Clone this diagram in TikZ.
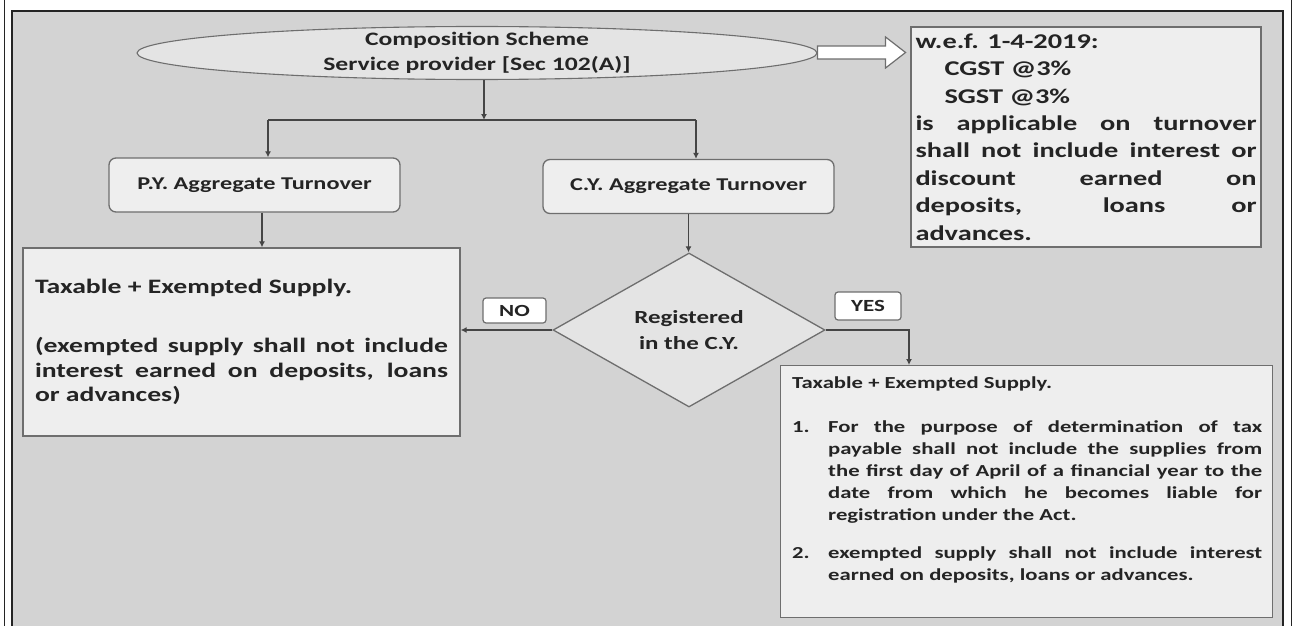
\documentclass[tikz,border=0pt]{standalone}
\usepackage{fontspec}
\setmainfont{Carlito}[FakeStretch=1.35]
\usepackage{tikz}
\usetikzlibrary{shapes.geometric, arrows.meta, positioning}

\definecolor{panelgray}{RGB}{211,211,211}
\definecolor{boxgray}{RGB}{238,238,238}
\definecolor{shapegray}{RGB}{228,228,228}
\definecolor{edgegray}{RGB}{110,110,110}
\definecolor{inkgray}{RGB}{36,36,36}

\tikzset{
  flow/.style={draw=edgegray, line width=1.3pt, fill=boxgray, text=inkgray},
  roundbox/.style={flow, rounded corners=7pt, minimum width=291pt, minimum height=54pt, inner sep=0pt, font=\fontsize{18}{22}\selectfont\bfseries},
  notebox/.style={flow, rectangle, align=justify, inner ysep=0pt},
  tag/.style={draw=edgegray, line width=1.2pt, fill=white, rounded corners=3pt, text=inkgray, inner sep=0pt, font=\fontsize{17}{20}\selectfont\bfseries},
  link/.style={draw=inkgray!85, line width=1.6pt},
  arr/.style={link, -{Latex[length=6pt, width=6pt]}},
}
\newcommand{\listitem}[2]{\noindent\makebox[36pt][l]{#1}\parbox[t]{434pt}{#2}\par}

\begin{document}
\begin{tikzpicture}[x=1pt, y=-1pt]
  \useasboundingbox (0,0) rectangle (1293,626);
  % Frame
  \fill[panelgray] (12,11) rectangle (1283,632);
  \draw[inkgray, line width=1.2pt] (12,632) -- (12,11) -- (1283,11) -- (1283,632);
  \draw[inkgray, line width=1pt] (4,0) -- (4,626);
  \draw[inkgray, line width=1pt] (1291,0) -- (1291,626);
  % Scheme
  \node[flow, ellipse, fill=shapegray, line width=1.1pt, minimum width=680pt, minimum height=53pt, inner sep=0pt] (scheme) at (477,53) {};
  \node[align=center, text=inkgray, font=\fontsize{19}{25}\selectfont\bfseries] (schemetext) at (scheme.center) {Composition Scheme\\Service provider [Sec 102(A)]};
  % Rate box
  \node[notebox, minimum width=350pt, minimum height=220pt, text width=341pt, inner xsep=4.5pt, font=\fontsize{21}{27.4}\selectfont\bfseries] (wefbox) at (1086,137)
    {w.e.f. 1-4-2019:\\
     \hspace*{29pt}CGST @3\%\\
     \hspace*{29pt}SGST @3\%\par
     is applicable on turnover\linebreak shall not include interest or\linebreak discount earned on\linebreak deposits, loans or\linebreak advances.};
  \draw[draw=edgegray, line width=1.2pt, fill=white] (scheme.east) ++(0,-7) -- ++(68,0) -- ++(0,-9) -- ++(20,15.5) -- ++(-20,15.5) -- ++(0,-9) -- ++(-68,0) -- cycle;
  % Turnover boxes
  \node[roundbox] (pyturn) at (254.5,185) {P.Y. Aggregate Turnover};
  \node[roundbox] (cyturn) at (688.5,186.5) {C.Y. Aggregate Turnover};
  % P.Y. result
  \node[notebox, minimum width=437pt, minimum height=188pt, text width=413pt, inner xsep=12pt, font=\fontsize{20.5}{24.5}\selectfont\bfseries] (pyres) at (241.5,342)
    {Taxable + Exempted Supply.\par\vspace{34.5pt}
     (exempted supply shall not include\linebreak interest earned on deposits, loans\linebreak or advances)};
  % Decision
  \node[flow, diamond, fill=shapegray, minimum width=272pt, minimum height=154pt, inner sep=0pt, align=center, font=\fontsize{18.5}{26}\selectfont\bfseries] (regq) at (689,330) {Registered\\in the C.Y.};
  \node[tag, minimum width=63pt, minimum height=25pt] (notag) at (514.5,310.5) {NO};
  \node[tag, minimum width=66pt, minimum height=28pt] (yestag) at (868,306) {YES};
  % C.Y. result
  \node[flow, rectangle, minimum width=492pt, minimum height=252pt, anchor=north west] (cyres) at (780,365) {};
  \node[anchor=north west, inner sep=0pt, text width=470pt, align=justify, text=inkgray, font=\fontsize{16.8}{22}\selectfont\bfseries] (cyrestext) at (792,377)
    {Taxable + Exempted Supply.\par\vspace{22pt}
     \listitem{1.}{For the purpose of determination of tax\linebreak payable shall not include the supplies from\linebreak the first day of April of a financial year to the\linebreak date from which he becomes liable for\linebreak registration under the Act.}
     \vspace{22pt}
     \listitem{2.}{exempted supply shall not include interest\linebreak earned on deposits, loans or advances.}};
  % Connectors
  \coordinate (split) at (484,120);
  \coordinate (splitL) at (268,120);
  \coordinate (splitR) at (696,120);
  \coordinate (yesdrop) at (909,330);
  \draw[arr] (scheme.south -| split) -- (split);
  \draw[link] (splitL) -- (splitR);
  \draw[arr] (splitL) -- (splitL |- pyturn.north);
  \draw[arr] (splitR) -- (splitR |- cyturn.north);
  \draw[arr] ([xshift=7.5pt]pyturn.south) -- ([xshift=7.5pt]pyturn.south |- pyres.north);
  \draw[arr] (cyturn.south) -- (cyturn.south |- regq.north);
  \draw[arr] (regq.west) -- (regq.west -| pyres.east);
  \draw[arr] (regq.east) -- (yesdrop) -- (yesdrop |- cyres.north);
\end{tikzpicture}
\end{document}
